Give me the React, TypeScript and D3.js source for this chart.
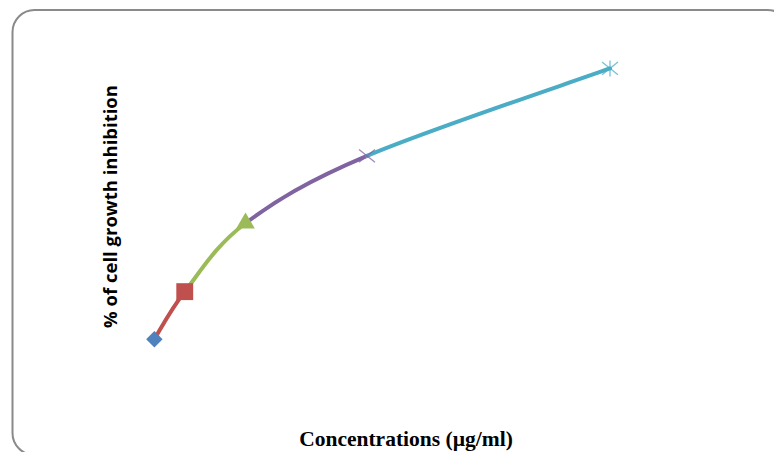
import * as d3 from "d3";

const W = 774;
const H = 452;

// concentrations (µg/ml) and % inhibition
const concentrations = [12.5, 25, 50, 100, 200];
const inhibition = [16.9, 30.1, 49.1, 67.8, 92.1];
const colors = ["#4F81BD", "#C0504D", "#9BBB59", "#8064A2", "#4BACC6"];
const markerKinds = ["diamond", "square", "triangle", "x", "star"];

const xLabel = "Concentrations (µg/ml)";
const yLabel = "% of cell growth inhibition";

type Pt = [number, number];

const Marker = ({ kind, x, y, color }: { kind: string; x: number; y: number; color: string }) => {
  if (kind === "diamond") {
    const p = d3.symbol().type(d3.symbolSquare).size(135)();
    return <path d={p ?? ""} transform={`translate(${x},${y}) rotate(45)`} fill={color} />;
  }
  if (kind === "square") {
    const p = d3.symbol().type(d3.symbolSquare).size(285)();
    return <path d={p ?? ""} transform={`translate(${x},${y})`} fill={color} />;
  }
  if (kind === "triangle") {
    const p = d3.symbol().type(d3.symbolTriangle).size(150)();
    return <path d={p ?? ""} transform={`translate(${x},${y})`} fill={color} />;
  }
  const r = 8;
  return (
    <g transform={`translate(${x},${y})`} stroke={color} strokeWidth={1.3} strokeOpacity={0.75}>
      <line x1={-r} y1={-r * 0.8} x2={r} y2={r * 0.8} />
      <line x1={-r} y1={r * 0.8} x2={r} y2={-r * 0.8} />
      {kind === "star" && <line x1={0} y1={-r} x2={0} y2={r} />}
    </g>
  );
};

export default function App() {
  const xScale = d3.scaleLinear().domain([0, 200]).range([124, 610]);
  const yScale = d3.scaleLinear().domain([0, 100]).range([400, 40]);

  const pts: Pt[] = concentrations.map((c, i) => [xScale(c), yScale(inhibition[i])]);

  // smooth (catmull-rom style) bezier pieces, one colour per piece
  const segments = pts.slice(0, -1).map((p1, i) => {
    const p0 = pts[i - 1] ?? p1;
    const p2 = pts[i + 1];
    const p3 = pts[i + 2] ?? p2;
    const c1: Pt = [p1[0] + (p2[0] - p0[0]) / 6, p1[1] + (p2[1] - p0[1]) / 6];
    const c2: Pt = [p2[0] - (p3[0] - p1[0]) / 6, p2[1] - (p3[1] - p1[1]) / 6];
    const path = d3.path();
    path.moveTo(p1[0], p1[1]);
    path.bezierCurveTo(c1[0], c1[1], c2[0], c2[1], p2[0], p2[1]);
    return { d: path.toString(), color: colors[i + 1] };
  });

  return (
    <svg width={W} height={H} style={{ position: "absolute", left: 0, top: 0, background: "#fff" }}>
      <rect x={12.5} y={10} width={777} height={445} rx={22} fill="#fff" stroke="#8a8a8a" strokeWidth={2} />
      <g>
        {segments.map((s, i) => (
          <path key={i} d={s.d} fill="none" stroke={s.color} strokeWidth={4} strokeLinecap="round" />
        ))}
        {pts.map((p, i) => (
          <Marker key={i} kind={markerKinds[i]} x={p[0]} y={p[1]} color={colors[i]} />
        ))}
      </g>
      <text
        transform={`translate(117,206.5) rotate(-90)`}
        textAnchor="middle"
        fontFamily="'Open Sans', sans-serif"
        fontWeight="bold"
        fontSize={18.5}
        fill="#000"
      >
        {yLabel}
      </text>
      <text
        x={406}
        y={446}
        textAnchor="middle"
        fontFamily="'Liberation Serif', serif"
        fontWeight="bold"
        fontSize={21.5}
        fill="#000"
      >
        {xLabel}
      </text>
    </svg>
  );
}
